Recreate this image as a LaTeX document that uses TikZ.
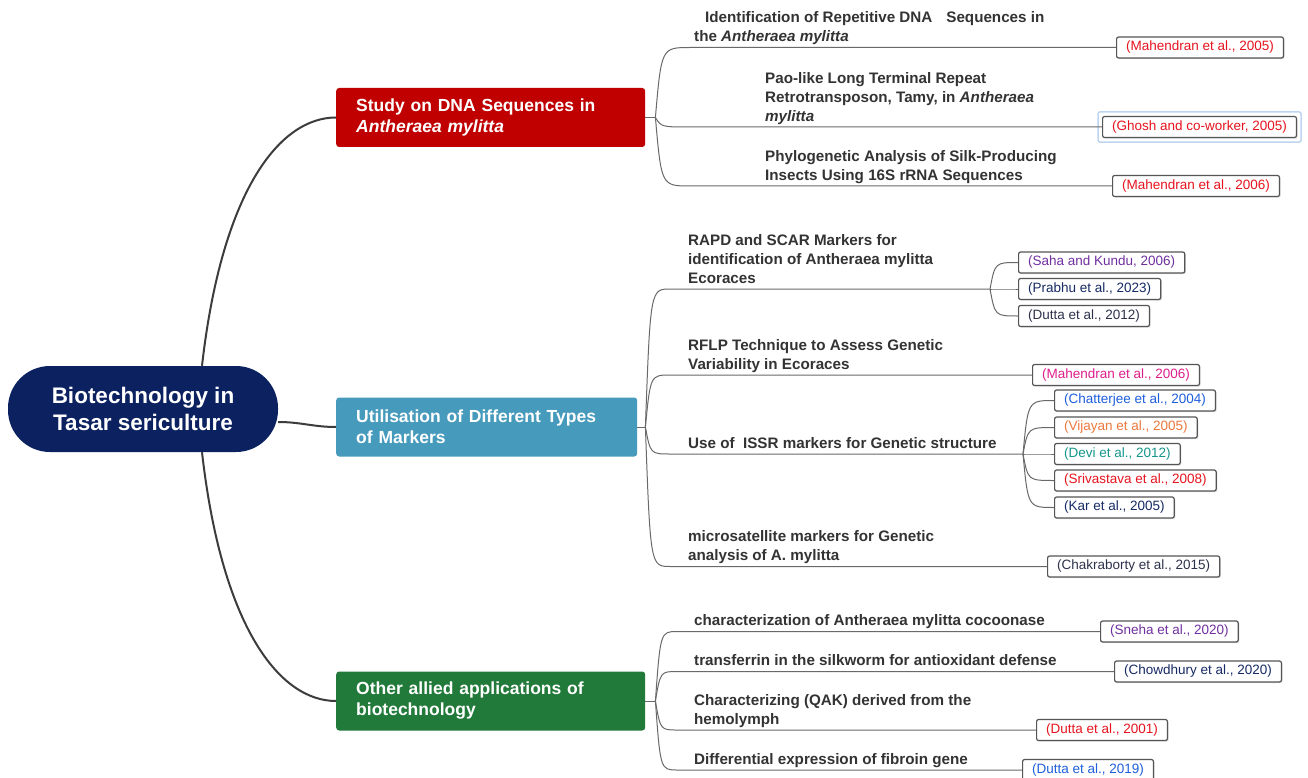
\documentclass[tikz,border=0pt]{standalone}
\usepackage{fontspec}
\setmainfont{Liberation Sans}
\usetikzlibrary{calc,shadows}
\definecolor{rootblue}{RGB}{12,34,96}
\definecolor{bred}{RGB}{192,0,0}
\definecolor{bblue}{RGB}{70,154,188}
\definecolor{bgreen}{RGB}{33,122,58}
\definecolor{txtgray}{RGB}{51,51,51}
\definecolor{linegray}{RGB}{105,105,105}
\definecolor{maingray}{RGB}{60,60,60}
\definecolor{refborder}{RGB}{85,85,85}
\definecolor{cred}{RGB}{230,20,30}
\definecolor{cpurple}{RGB}{112,48,160}
\definecolor{cnavy}{RGB}{22,42,100}
\definecolor{cslate}{RGB}{45,50,75}
\definecolor{cmagenta}{RGB}{222,30,140}
\definecolor{cblue}{RGB}{30,95,220}
\definecolor{corange}{RGB}{235,120,60}
\definecolor{cteal}{RGB}{20,150,140}
\definecolor{selblue}{RGB}{190,212,240}
\begin{document}
\begin{tikzpicture}[x=1pt,y=-1pt,
 rootnode/.style={fill=rootblue, rounded corners=42pt, minimum width=270pt, minimum height=86pt, text=white, font=\bfseries\fontsize{22.5}{27}\selectfont, align=center, inner sep=0pt},
 branchnode/.style={rounded corners=3pt, minimum height=59pt, text=white, font=\bfseries\fontsize{17.5}{21}\selectfont, align=left, anchor=west, inner xsep=20pt, inner ysep=0pt},
 leaf/.style={anchor=south west, inner sep=0pt, align=left, text=txtgray, font=\bfseries\fontsize{15.2}{19}\selectfont},
 refbox/.style={draw=refborder, line width=1.2pt, fill=white, rounded corners=2pt, minimum height=21pt, inner xsep=9.5pt, inner ysep=0pt, anchor=west, font=\fontsize{13.5}{16}\selectfont, drop shadow={shadow xshift=1.2pt, shadow yshift=-1.2pt, opacity=0.25}},
 main/.style={draw=maingray, line width=2pt},
 sub/.style={draw=linegray, line width=1pt},
]
\fill[white] (0,0) rectangle (1308,778);
\useasboundingbox (0,0) rectangle (1308,778);

% root and branches
\node[rootnode] (root) at (143,409) {Biotechnology in\\Tasar sericulture};
\node[branchnode, fill=bred, text width=269pt] (b1) at (336,117.5) {Study on DNA Sequences in\\\textit{Antheraea mylitta}};
\node[branchnode, fill=bblue, text width=261pt] (b2) at (336,427) {Utilisation of Different Types\\of Markers};
\node[branchnode, fill=bgreen, text width=269pt] (b3) at (336,701) {Other allied applications of\\biotechnology};

% references
\node[refbox,text=cred] (r11) at (1116,47.5) {(Mahendran et al., 2005)};
\node[refbox,text=cred] (r12) at (1102,127) {(Ghosh and co-worker, 2005)};
\node[refbox,text=cred] (r13) at (1112,186) {(Mahendran et al., 2006)};
\node[refbox,text=cpurple] (r211) at (1018,262.5) {(Saha and Kundu, 2006)};
\node[refbox,text=cnavy] (r212) at (1018,289) {(Prabhu et al., 2023)};
\node[refbox,text=cslate] (r213) at (1018,316) {(Dutta et al., 2012)};
\node[refbox,text=cmagenta] (r22) at (1032,375) {(Mahendran et al., 2006)};
\node[refbox,text=cblue] (r231) at (1054,400.5) {(Chatterjee et al., 2004)};
\node[refbox,text=corange] (r232) at (1054,427.5) {(Vijayan et al., 2005)};
\node[refbox,text=cteal] (r233) at (1054,454) {(Devi et al., 2012)};
\node[refbox,text=cred] (r234) at (1054,480.5) {(Srivastava et al., 2008)};
\node[refbox,text=cnavy] (r235) at (1054,507.5) {(Kar et al., 2005)};
\node[refbox,text=cslate] (r24) at (1047,566.5) {(Chakraborty et al., 2015)};
\node[refbox,text=cpurple] (r31) at (1100,631.5) {(Sneha et al., 2020)};
\node[refbox,text=cnavy] (r32) at (1114,671.5) {(Chowdhury et al., 2020)};
\node[refbox,text=cred] (r33) at (1036,730) {(Dutta et al., 2001)};
\node[refbox,text=cblue] (r34) at (1022,770) {(Dutta et al., 2019)};

\draw[selblue, line width=1.5pt, rounded corners=2pt] ([shift={(-4pt,4pt)}]r12.north west) rectangle ([shift={(4pt,-4pt)}]r12.south east);

% leaf texts
\node[leaf] (l11) at (694,47.5) {\hspace*{11pt}Identification of Repetitive DNA\hspace{14pt}Sequences in\\the \textit{Antheraea mylitta}\strut};
\node[leaf] (l12) at (765,127) {Pao-like Long Terminal Repeat\\Retrotransposon, Tamy, in \textit{Antheraea}\\\textit{mylitta}\strut};
\node[leaf] (l13) at (765,186) {Phylogenetic Analysis of Silk-Producing\\Insects Using 16S rRNA Sequences\strut};
\node[leaf] (l21) at (688,289) {RAPD and SCAR Markers for\\identification of Antheraea mylitta\\Ecoraces\strut};
\node[leaf] (l22) at (688,375) {RFLP Technique to Assess Genetic\\Variability in Ecoraces\strut};
\node[leaf] (l23) at (688,454) {Use of \ ISSR markers for Genetic structure\strut};
\node[leaf] (l24) at (688,566.5) {microsatellite markers for Genetic\\analysis of A. mylitta\strut};
\node[leaf] (l31) at (694,631.5) {characterization of Antheraea mylitta cocoonase\strut};
\node[leaf] (l32) at (694,671.5) {transferrin in the silkworm for antioxidant defense\strut};
\node[leaf] (l33) at (694,730) {Characterizing (QAK) derived from the\\hemolymph\strut};
\node[leaf] (l34) at (694,770) {Differential expression of fibroin gene\strut};

% main connectors
\draw[main] ([xshift=59pt]root.north) .. controls ([xshift=79pt,yshift=176pt]root.north) and ([xshift=-56pt]b1.west) .. (b1.west);
\draw[main] ([yshift=-13pt]root.east) to[out=0,in=180] (b2.west);
\draw[main] ([xshift=59pt]root.south) .. controls ([xshift=79pt,yshift=-176pt]root.south) and ([xshift=-56pt]b3.west) .. (b3.west);

% branch 1 fan
\coordinate (j1) at ($(b1.east)+(10,0)$);
\draw[sub] (b1.east) -- (j1);
\foreach \r in {r11,r12,r13}
  \draw[sub] (j1) .. controls ($(j1 |- \r.west)+(6,0)$) .. ($(j1 |- \r.west)+(35,0)$) -- (\r.west);

% branch 2 fan
\coordinate (j2) at ($(b2.east)+(8,0)$);
\coordinate (s21) at ($(r212.west)+(-28,0)$);
\coordinate (s23) at ($(r233.west)+(-31,0)$);
\draw[sub] (b2.east) -- (j2);
\foreach \r in {s21,r22,s23,r24}
  \draw[sub] (j2) .. controls ($(j2 |- \r)+(5,0)$) .. ($(j2 |- \r)+(25,0)$) -- (\r);
\foreach \r in {r211,r212,r213}
  \draw[sub] (s21) .. controls ($(s21 |- \r.west)+(5,0)$) .. (\r.west);
\foreach \r in {r231,r232,r233,r234,r235}
  \draw[sub] (s23) .. controls ($(s23 |- \r.west)+(5,0)$) .. (\r.west);

% branch 3 fan
\coordinate (j3) at ($(b3.east)+(10,0)$);
\draw[sub] (b3.east) -- (j3);
\foreach \r in {r31,r32,r33,r34}
  \draw[sub] (j3) .. controls ($(j3 |- \r.west)+(5,0)$) .. ($(j3 |- \r.west)+(22,0)$) -- (\r.west);
\end{tikzpicture}
\end{document}
